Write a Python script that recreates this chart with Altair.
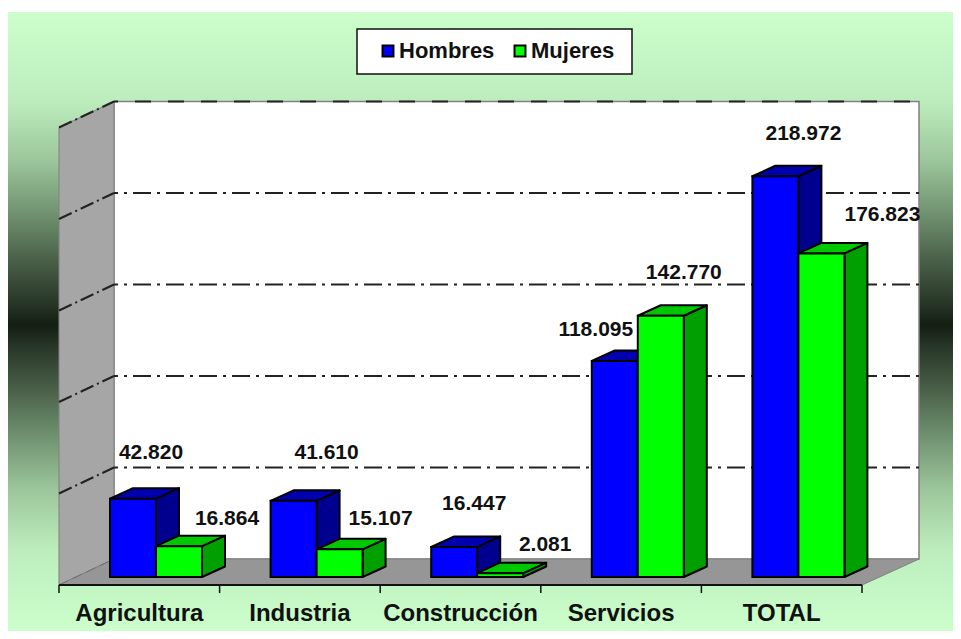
import altair as alt
import pandas as pd

categories = ["Agricultura", "Industria", "Construcción", "Servicios", "TOTAL"]
series = ["Hombres", "Mujeres"]
hombres = [42820, 41610, 16447, 118095, 218972]
mujeres = [16864, 15107, 2081, 142770, 176823]
grid_values = [0, 50000, 100000, 150000, 200000, 250000]

# layout (pixels of the page)
U = 160.6            # px per category
K = 91.5 / 50000     # px per value unit
X0, Y0 = 59, 577     # page px of x=0 and of value=0
W, H = 945, 623
PR, PB = 8 + W, 8 + H
def px_x(p): return p / U
def px_y(p): return p / K
def page_x(p): return (p - X0) / U
def page_y(p): return (Y0 - p) / K
bar_w = px_x(46); bar_start = px_x(51)
bar_dx = px_x(23); bar_dy = px_y(10.5)
wall_dx = px_x(55); wall_dy = px_y(26)
floor_front = px_y(-8)
floor_back = floor_front + wall_dy
last_x = len(categories)
floor_right_back = last_x + px_x(57)

label_offsets = {
    "Hombres": [(18, 45.5), (33, 47.5), (20, 42.5), (-19, 30.5), (28, 42.5)],
    "Mujeres": [(48, 27.5), (41, 30.5), (45, 28.5), (23, 42.5), (61, 38.5)],
}

scale_x = alt.Scale(domain=[page_x(8), page_x(PR)], nice=False, zero=False)
scale_y = alt.Scale(domain=[page_y(PB), page_y(8)], nice=False, zero=False)
ax = lambda f="x": alt.X(f + ":Q", scale=scale_x, axis=None, title=None)
ay = lambda f="y": alt.Y(f + ":Q", scale=scale_y, axis=None, title=None, stack=None)

# background
stop_rows = [(12, "#CCFFCC"), (100, "#BDEDBD"), (160, "#9CC79C"), (220, "#6B8B6B"),
             (260, "#4A6048"), (300, "#2A3A2A"), (325, "#141E14"), (350, "#2A3A2A"),
             (390, "#4A6048"), (430, "#6B8B6B"), (490, "#9CC79C"), (550, "#BDEDBD"),
             (PB, "#CCFFCC")]
grad = alt.Gradient(gradient="linear", x1=0, x2=0, y1=0, y2=1,
                    stops=[alt.GradientStop(offset=(p - 12) / (PB - 12), color=c) for p, c in stop_rows])
bg = alt.Chart(pd.DataFrame([{"x": page_x(8), "x2": page_x(PR),
                              "y": page_y(12), "y2": page_y(PB)}])).mark_rect(
    color=grad).encode(ax(), alt.X2("x2"), ay(), alt.Y2("y2"))

# legend box
legend_box = alt.Chart(pd.DataFrame([{"x": page_x(357), "x2": page_x(632),
                                      "y": page_y(29), "y2": page_y(74)}])).mark_rect(
    fill="white", stroke="#111111", strokeWidth=1.5).encode(ax(), alt.X2("x2"), ay(), alt.Y2("y2"))

# back wall
top = grid_values[-1] + floor_back
back = alt.Chart(pd.DataFrame([{"x": wall_dx, "x2": floor_right_back, "y": top, "y2": floor_back}])).mark_rect(
    fill="white", stroke="#808080", strokeWidth=1.5).encode(ax(), alt.X2("x2"), ay(), alt.Y2("y2"))

# left wall
left_wall = alt.Chart(pd.DataFrame([
    {"x": 0, "y": grid_values[-1] + floor_front, "y2": floor_front},
    {"x": wall_dx, "y": top, "y2": floor_back}])).mark_area(
    fill="#A6A6A6", stroke="#808080", strokeWidth=1).encode(ax(), ay(), alt.Y2("y2"))

# floor
floor = alt.Chart(pd.DataFrame([
    {"y": floor_front, "x": 0, "x2": last_x},
    {"y": floor_back, "x": wall_dx, "x2": floor_right_back}])).mark_area(
    orient="horizontal", fill="#969696", stroke="#808080", strokeWidth=1).encode(ax(), alt.X2("x2"), ay())

# grid
inner = grid_values[1:-1]
grid_back = alt.Chart(pd.DataFrame([{"x": wall_dx, "x2": floor_right_back, "y": g + floor_back} for g in inner])).mark_rule(
    color="#222222", strokeWidth=2, strokeDash=[18, 6, 3, 6], strokeDashOffset=14).encode(ax(), alt.X2("x2"), ay())
grid_top = alt.Chart(pd.DataFrame([{"x": wall_dx, "x2": floor_right_back, "y": top}])).mark_rule(
    color="#222222", strokeWidth=2, strokeDash=[16, 17], strokeDashOffset=12).encode(ax(), alt.X2("x2"), ay())
diag_rows = []
for g in grid_values[1:]:
    diag_rows += [{"g": g, "x": 0, "y": g + floor_front}, {"g": g, "x": wall_dx, "y": g + floor_back}]
grid_left = alt.Chart(pd.DataFrame(diag_rows)).mark_line(
    color="#222222", strokeWidth=2, strokeDash=[14, 4, 2, 4]).encode(ax(), ay(), detail="g:N")
grid_left0 = alt.Chart(pd.DataFrame([{"x": 0, "y": floor_front}, {"x": wall_dx, "y": floor_back}])).mark_line(
    color="#707070", strokeWidth=1, strokeDash=[10, 5]).encode(ax(), ay())

# bars
colors = {"Hombres": ("#0000FF", "#0000AE", "#00008F"), "Mujeres": ("#00FF00", "#00C800", "#00A000")}
values = {"Hombres": hombres, "Mujeres": mujeres}
bar_layers = []
text_rows = []
for s_i, s in enumerate(series):
    front_rows, top_rows, side_rows = [], [], []
    for i, v in enumerate(values[s]):
        l = i + bar_start + s_i * bar_w
        r = l + bar_w
        front_rows.append({"serie": s, "x": l, "x2": r, "y": v, "y2": 0})
        top_rows += [{"b": i, "y": v, "x": l, "x2": r},
                     {"b": i, "y": v + bar_dy, "x": l + bar_dx, "x2": r + bar_dx}]
        side_rows += [{"b": i, "x": r, "y": v, "y2": 0},
                      {"b": i, "x": r + bar_dx, "y": v + bar_dy, "y2": bar_dy}]
        dx, dy = label_offsets[s][i]
        text_rows.append({"x": (l + r) / 2 + px_x(dx), "y": v + px_y(dy),
                          "t": f"{v:,}".replace(",", ".")})
    main, tp, sd = colors[s]
    bar_layers.append(alt.Chart(pd.DataFrame(side_rows)).mark_area(
        fill=sd, stroke="black", strokeWidth=2, strokeJoin="round").encode(ax(), ay(), alt.Y2("y2"), detail="b:N"))
    bar_layers.append(alt.Chart(pd.DataFrame(top_rows)).mark_area(
        orient="horizontal", fill=tp, stroke="black", strokeWidth=2, strokeJoin="round").encode(
        ax(), alt.X2("x2"), ay(), detail="b:N"))
    bar_layers.append(alt.Chart(pd.DataFrame(front_rows)).mark_rect(
        stroke="black", strokeWidth=2).encode(
        ax(), alt.X2("x2"), ay(), alt.Y2("y2"),
        color=alt.Color("serie:N",
                        scale=alt.Scale(domain=series, range=[colors[n][0] for n in series]),
                        legend=alt.Legend(title=None, orient="none", legendX=369, legendY=32,
                                          direction="horizontal", columns=2, padding=0,
                                          symbolType="square", symbolSize=120, symbolStrokeColor="black",
                                          symbolStrokeWidth=2, symbolOpacity=1,
                                          labelFont="Liberation Sans", labelFontWeight="bold",
                                          labelFontSize=22, labelColor="#111111",
                                          labelOffset=0, columnPadding=14))))

# axis line, ticks, labels
axis_line = alt.Chart(pd.DataFrame([{"x": 0, "x2": last_x, "y": floor_front}])).mark_rule(
    color="#111111", strokeWidth=2).encode(ax(), alt.X2("x2"), ay())
ticks = alt.Chart(pd.DataFrame([{"x": i, "y": floor_front, "y2": floor_front - px_y(8)}
                                for i in range(last_x + 1)])).mark_rule(
    color="#111111", strokeWidth=1.5).encode(ax(), ay(), alt.Y2("y2"))
cat_text = alt.Chart(pd.DataFrame([{"x": i + 0.5, "y": px_y(-37), "t": c} for i, c in enumerate(categories)])).mark_text(
    font="Liberation Sans", fontWeight="bold", fontSize=24, color="#111111", baseline="middle", align="center").encode(
    ax(), ay(), text="t:N")
val_text = alt.Chart(pd.DataFrame(text_rows)).mark_text(
    font="Liberation Sans", fontWeight="bold", fontSize=21, color="#111111", baseline="middle", align="center").encode(
    ax(), ay(), text="t:N")

chart = alt.layer(bg, legend_box, back, left_wall, floor, grid_back, grid_top, grid_left0, grid_left,
                  *bar_layers, axis_line, ticks, cat_text, val_text).properties(
    width=W, height=H, padding=0, background="white",
    autosize=alt.AutoSizeParams(type="none")
).configure_view(stroke=None)

chart.save("out.html", embed_options={"renderer": "svg", "actions": False})
